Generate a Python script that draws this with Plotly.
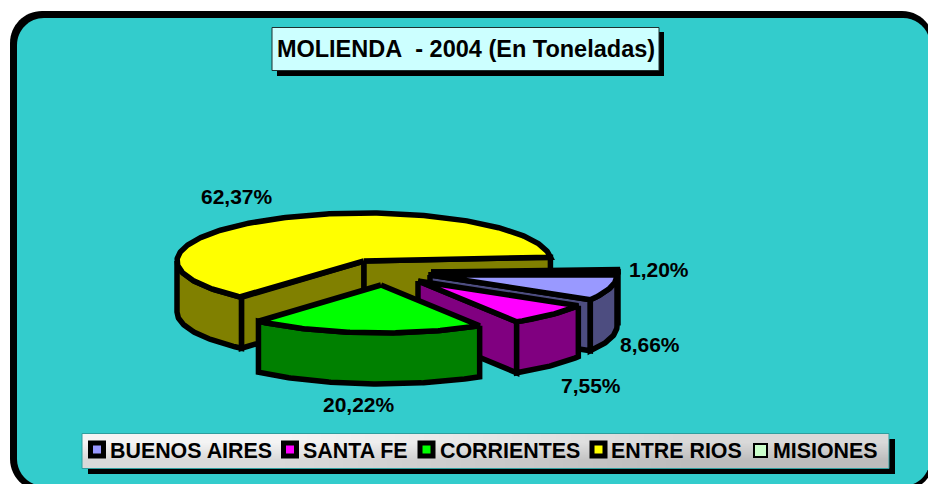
import math
import plotly.graph_objects as go

# ---- data -------------------------------------------------------------
categories = ["BUENOS AIRES", "SANTA FE", "CORRIENTES", "ENTRE RIOS", "MISIONES"]
shares = [8.66, 7.55, 20.22, 62.37, 1.20]
title_text = "MOLIENDA\u00a0\u00a0- 2004 (En Toneladas)"

# ---- styles and layout -------------------------------------------------
top_colors = ["#9999FF", "#FF00FF", "#00FF00", "#FFFF00", "#CCFFCC"]
side_colors = ["#4D4D80", "#800080", "#008000", "#808000", "#668066"]
apex_x = [430, 418, 381, 364, 431]
apex_y = [275, 281, 285, 261, 272]
label_x = [650, 591, 359, 237, 659]
label_y = [344, 385, 404, 196, 269]
swatch_x = [97, 290, 426.5, 598.5, 760.5]
legend_text_x = [110, 303, 440, 611, 773]
swatch_line = [5, 5, 5, 5, 2]

W, H = 928, 484
RX, RY, DEPTH = 187, 48, 51
START_ANGLE = 0.2
LINE = 5.5
FONT = "Liberation Sans, Arial, sans-serif"


def rounded(x0, y0, x1, y1, r):
    k = r * 0.4477
    return (f"M{x0+r},{y0} L{x1-r},{y0} C{x1-k},{y0} {x1},{y0+k} {x1},{y0+r} "
            f"L{x1},{y1-r} C{x1},{y1-k} {x1-k},{y1} {x1-r},{y1} "
            f"L{x0+r},{y1} C{x0+k},{y1} {x0},{y1-k} {x0},{y1-r} "
            f"L{x0},{y0+r} C{x0},{y0+k} {x0+k},{y0} {x0+r},{y0} Z")


def arc(cx, cy, a0, a1):
    n = max(3, int(abs(a1 - a0) * 1.5))
    pts = [a0 + (a1 - a0) * i / n for i in range(n + 1)]
    return ([cx + RX * math.cos(math.radians(a)) for a in pts],
            [cy - RY * math.sin(math.radians(a)) for a in pts])


fig = go.Figure()


def poly(xs, ys, color):
    fig.add_trace(go.Scatter(
        x=xs + xs[:1], y=ys + ys[:1], mode="lines", fill="toself", fillcolor=color,
        line=dict(color="black", width=LINE), hoverinfo="skip", showlegend=False))


# Angles run clockwise from the start angle, in the order of the categories.
spans = []
angle = START_ANGLE
for s in shares:
    spans.append((angle, angle - s * 3.6))
    angle -= s * 3.6


def draw_slice(i):
    a0, a1 = spans[i]          # the slice runs clockwise from a0 down to a1
    cx, cy = apex_x[i], apex_y[i]
    side, top = side_colors[i], top_colors[i]

    def radial_wall(a):
        ex = cx + RX * math.cos(math.radians(a))
        ey = cy - RY * math.sin(math.radians(a))
        poly([cx, ex, ex, cx], [cy, ey, ey + DEPTH, cy + DEPTH], side)

    # flat cut faces are visible when their outward normal points at the viewer
    if math.sin(math.radians(a0 + 90)) < 0:
        radial_wall(a0)
    if math.sin(math.radians(a1 - 90)) < 0:
        radial_wall(a1)
    # the rim is visible only on the front half of the ellipse (angles -180..0)
    lo = max(a1, -180)
    hi = min(a0, 0)
    if hi > lo:
        xs, ys = arc(cx, cy, hi, lo)
        poly(xs + xs[::-1], ys + [y + DEPTH for y in ys[::-1]], side)
    # top face
    xs, ys = arc(cx, cy, a0, a1)
    poly([cx] + xs, [cy] + ys, top)


for i in [3, 4, 0, 1, 2]:
    draw_slice(i)

# legend panel gradient
fig.add_trace(go.Heatmap(
    x=[82, 485.5, 889], y=[433, 450.5, 468], z=[[0.0, 0.5], [0.5, 1.0]], zsmooth="best",
    colorscale=[[0, "#F4F4F4"], [1, "#BDBDBD"]], showscale=False, hoverinfo="skip"))

# legend swatches
for i, name in enumerate(categories):
    fig.add_trace(go.Scatter(
        x=[swatch_x[i]], y=[449.5 if i < 4 else 450.5], mode="markers", name=name,
        marker=dict(symbol="square", size=13, color=top_colors[i],
                    line=dict(color="black", width=swatch_line[i])),
        hoverinfo="skip", showlegend=False))

annotations = []
for i, s in enumerate(shares):
    annotations.append(dict(
        x=label_x[i], y=label_y[i], xref="x", yref="y", showarrow=False,
        text=f"<b>{s:.2f}%</b>".replace(".", ","),
        font=dict(family=FONT, size=21, color="black"), xanchor="center", yanchor="middle"))
    annotations.append(dict(
        x=legend_text_x[i], y=451, xref="x", yref="y", showarrow=False,
        text=f"<b>{categories[i]}</b>", xshift=-2,
        font=dict(family=FONT, size=21.4, color="black"), xanchor="left", yanchor="middle"))

shapes = [
    dict(type="path", path=rounded(10, 11, 934, 491, 32), fillcolor="black",
         line=dict(width=0), layer="below"),
    dict(type="path", path=rounded(17, 18, 930, 486, 27), fillcolor="#33CCCC",
         line=dict(width=0), layer="below"),
    # title box
    dict(type="rect", x0=277, y0=32, x1=664, y1=76, fillcolor="black",
         line=dict(width=0), layer="below"),
    dict(type="rect", x0=272, y0=27.5, x1=659, y1=70.5, fillcolor="#CCFFFF",
         line=dict(color="#1F3030", width=1), layer="below"),
    # legend box shadow and border
    dict(type="rect", x0=88, y0=439, x1=895, y1=474, fillcolor="black",
         line=dict(width=0), layer="below"),
    dict(type="rect", x0=82, y0=433.5, x1=889, y1=468.5, fillcolor="rgba(0,0,0,0)",
         line=dict(color="#2E9E9E", width=1), layer="above"),
]

fig.update_layout(
    width=W, height=H, margin=dict(l=0, r=0, t=0, b=0),
    paper_bgcolor="white", plot_bgcolor="white",
    title=dict(text=f"<b>{title_text}</b>", x=466 / W, y=1 - 49 / H, xanchor="center",
               yanchor="middle", xref="paper", yref="paper",
               font=dict(family=FONT, size=23.5, color="black")),
    xaxis=dict(range=[0, W], visible=False, fixedrange=True),
    yaxis=dict(range=[H, 0], visible=False, fixedrange=True),
    shapes=shapes, annotations=annotations, showlegend=False)

fig.write_html("out.html", config=dict(displayModeBar=False),
               post_script="document.body.style.margin='0';document.body.style.overflow='hidden';")
